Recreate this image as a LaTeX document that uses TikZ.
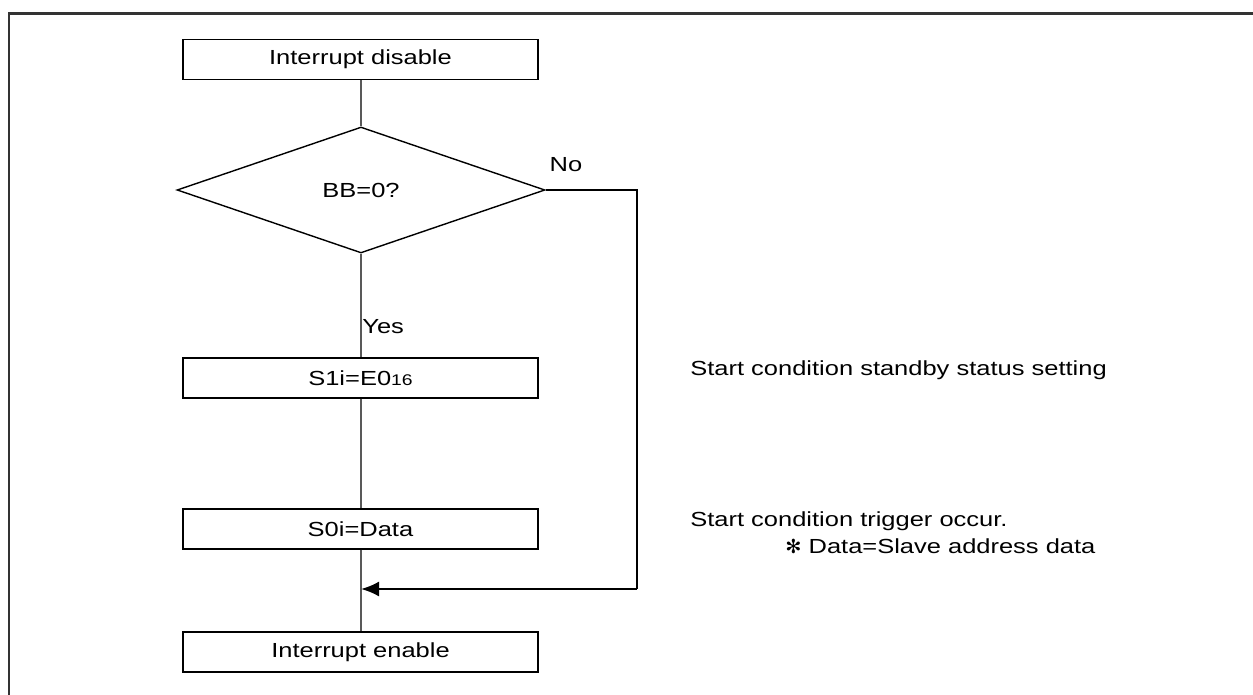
\documentclass[tikz,border=0pt]{standalone}
\usepackage{fontspec}
\setmainfont{Liberation Sans}[FakeStretch=1.25]
\newfontfamily\symfont{DejaVu Sans}
\usetikzlibrary{arrows.meta,shapes.geometric}

\begin{document}
\begin{tikzpicture}[x=0.02cm, y=-0.02cm, >={Latex[length=0.36cm,width=0.3cm]},
  font=\fontsize{11.6}{13.8}\selectfont,
  box/.style={draw, line width=0.8pt, minimum width=7.1cm, minimum height=0.8cm, inner sep=0pt},
  test/.style={draw, diamond, line width=0.8pt, minimum width=7.36cm, minimum height=2.52cm, inner sep=0pt},
  flow/.style={draw=black!65, line width=0.9pt}]
\useasboundingbox (0,0) rectangle (1253,695);
% open frame
\draw[black!80, line width=1.4pt] (9,695) -- (9,13.5) -- (1253,13.5);
% flow chart
\node[box] (dis) at (360.5,59.5) {Interrupt disable};
\node[test] (bb) at (361,190) {BB=0?};
\node[box] (s1) at (360.5,378) {S1i=E0{\fontsize{8.8}{10}\selectfont 16}};
\node[box] (s0) at (360.5,529) {S0i=Data};
\node[box] (en) at (360.5,652) {Interrupt enable};
\coordinate (join) at (361,589);
\coordinate (turn) at (637,589);
\draw[flow] (dis.south -| bb.north) -- (bb.north);
\draw[flow] (bb.south) -- (s1.north -| bb.south);
\draw[flow] (s1.south -| bb.south) -- (s0.north -| bb.south);
\draw[flow] (s0.south -| bb.south) -- (en.north -| bb.south);
\draw[line width=1.2pt] (bb.east) -| (turn);
\draw[->, line width=1.2pt] (turn) -- (join);
\node (no) at (566,165) {No};
\node[anchor=west, inner sep=0pt] (yes) at (362,327) {Yes};
% notes
\node[anchor=west, inner sep=0pt] (n1) at (690,370) {Start condition standby status setting};
\node[anchor=west, inner sep=0pt] (n2) at (690,521) {Start condition trigger occur.};
\node[anchor=west, inner sep=0pt] (n3) at (785,546) {{\symfont\fontsize{11}{12}\selectfont ✻} Data=Slave address data};
\end{tikzpicture}
\end{document}
